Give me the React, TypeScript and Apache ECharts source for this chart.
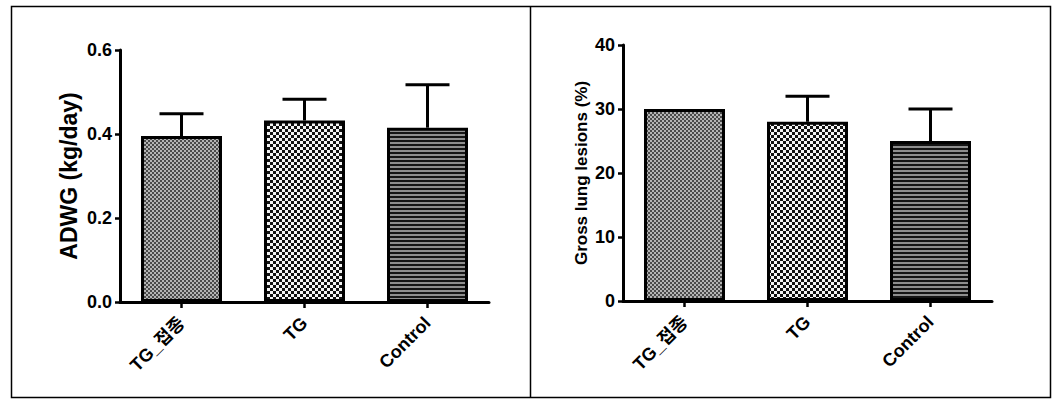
import React, { useEffect, useRef } from "react";
import * as echarts from "echarts";

const categories = ["TG_접종", "TG", "Control"];
const adwgMean = [0.395, 0.432, 0.415];
const adwgSd = [0.053, 0.051, 0.102];
const lesionMean = [30, 28, 25];
const lesionSd = [0, 4, 5];
const adwgTicks = { min: 0, max: 0.6, interval: 0.2 };
const lesionTicks = { min: 0, max: 40, interval: 10 };

const FONT = "'Liberation Sans', Arial, 'Noto Sans CJK KR', sans-serif";

function makePattern(kind: number) {
  const c = document.createElement("canvas");
  let w = 4, h = 4;
  if (kind === 1) { w = 6; h = 6; }
  c.width = w; c.height = h;
  const ctx = c.getContext("2d")!;
  if (kind === 0) {
    for (let y = 0; y < h; y++) for (let x = 0; x < w; x++) {
      ctx.fillStyle = ((Math.floor(x / 2) + Math.floor(y / 2)) % 2 === 0) ? "#4a4a4a" : "#b4b4b4";
      ctx.fillRect(x, y, 1, 1);
    }
  } else if (kind === 1) {
    for (let y = 0; y < h; y++) for (let x = 0; x < w; x++) {
      ctx.fillStyle = ((Math.floor(x / 3) + Math.floor(y / 3)) % 2 === 0) ? "#111111" : "#f4f4f4";
      ctx.fillRect(x, y, 1, 1);
    }
  } else {
    ctx.fillStyle = "#8e8e8e";
    ctx.fillRect(0, 0, w, h);
    ctx.fillStyle = "#151515";
    ctx.fillRect(0, 0, w, 2);
  }
  return { image: c.toDataURL(), repeat: "repeat", imageWidth: w, imageHeight: h };
}

export default function App() {
  const ref = useRef<HTMLDivElement>(null);
  useEffect(() => {
    if (!ref.current) return;
    const chart = echarts.init(ref.current, undefined, { renderer: "svg" });
    const patterns = [makePattern(0), makePattern(1), makePattern(2)];

    const xAxisBase = (gridIndex: number) => ({
      type: "category",
      gridIndex,
      data: categories,
      axisLine: { show: true, lineStyle: { color: "#000", width: 3 } },
      axisTick: { show: true, alignWithLabel: true, length: 6, lineStyle: { color: "#000", width: 2.5 } },
      axisLabel: {
        interval: 0, rotate: 45, fontSize: 18, fontWeight: "bold", color: "#000",
        fontFamily: FONT, margin: 18,
      },
      splitLine: { show: false },
    });
    const yAxisBase = (gridIndex: number, t: any, name: string, fontSize: number, nameGap: number, digits: number) => ({
      type: "value",
      gridIndex,
      min: t.min, max: t.max, interval: t.interval,
      name, nameLocation: "middle", nameGap,
      nameTextStyle: { fontSize, fontWeight: "bold", color: "#000", fontFamily: FONT },
      axisLine: { show: true, lineStyle: { color: "#000", width: 3 } },
      axisTick: { show: true, length: 5, lineStyle: { color: "#000", width: 2.5 } },
      axisLabel: {
        fontSize: 18, fontWeight: "bold", color: "#000", fontFamily: FONT, margin: 8,
        formatter: (v: number) => v.toFixed(digits),
      },
      splitLine: { show: false },
    });

    const barData = (vals: number[]) => vals.map((v, i) => ({ value: v, itemStyle: { color: patterns[i] } }));
    const errData = (m: number[], s: number[]) => m.map((v, i) => [i, v, s[i]]);
    const renderErr = (params: any, api: any) => {
      const sd = api.value(2);
      const idx = api.value(0);
      const m = api.value(1);
      if (!sd) return { type: "group", children: [] };
      const base = api.coord([idx, m]);
      const top = api.coord([idx, m + sd]);
      return {
        type: "group",
        children: [
          { type: "line", shape: { x1: base[0], y1: base[1], x2: top[0], y2: top[1] }, style: { stroke: "#000", lineWidth: 3 } },
          { type: "line", shape: { x1: top[0] - 22, y1: top[1], x2: top[0] + 22, y2: top[1] }, style: { stroke: "#000", lineWidth: 3 } },
        ],
      };
    };

    chart.setOption({
      animation: false,
      backgroundColor: "#fff",
      grid: [
        { left: 120, width: 369, top: 50, height: 252 },
        { left: 623, width: 369, top: 45, height: 256 },
      ],
      xAxis: [xAxisBase(0), xAxisBase(1)],
      yAxis: [
        yAxisBase(0, adwgTicks, "ADWG (kg/day)", 23, 40, 1),
        yAxisBase(1, lesionTicks, "Gross lung lesions (%)", 17, 33, 0),
      ],
      series: [
        {
          type: "bar", xAxisIndex: 0, yAxisIndex: 0, barWidth: 81,
          data: barData(adwgMean),
          itemStyle: { borderColor: "#000", borderWidth: 3 },
        },
        {
          type: "custom", xAxisIndex: 0, yAxisIndex: 0, z: 5,
          data: errData(adwgMean, adwgSd), renderItem: renderErr,
        },
        {
          type: "bar", xAxisIndex: 1, yAxisIndex: 1, barWidth: 81,
          data: barData(lesionMean),
          itemStyle: { borderColor: "#000", borderWidth: 3 },
        },
        {
          type: "custom", xAxisIndex: 1, yAxisIndex: 1, z: 5,
          data: errData(lesionMean, lesionSd), renderItem: renderErr,
        },
      ],
      graphic: [
        { type: "rect", shape: { x: 11.5, y: 6.5, width: 1039, height: 391 }, style: { fill: "none", stroke: "#000", lineWidth: 1.5 } },
        { type: "line", shape: { x1: 530.5, y1: 6.5, x2: 530.5, y2: 397.5 }, style: { stroke: "#000", lineWidth: 1.5 } },
      ],
    });
    return () => chart.dispose();
  }, []);
  return <div ref={ref} style={{ position: "absolute", left: 0, top: 0, width: 1063, height: 403 }} />;
}
